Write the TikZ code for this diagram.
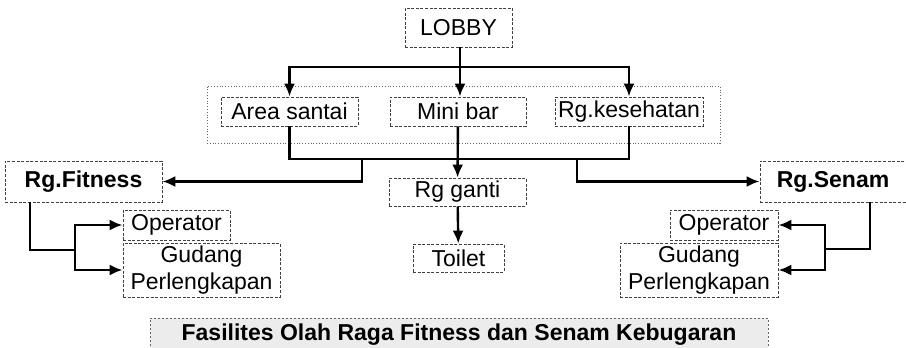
\documentclass[tikz,border=0pt]{standalone}
\usepackage{fontspec}
\setmainfont{Liberation Sans}
\usetikzlibrary{arrows.meta}
\begin{document}
\begin{tikzpicture}[x=0.5pt, y=-0.5pt,
        box/.style={draw=black!75, dash pattern=on 1.5pt off 0.8pt, line width=0.4pt, shape=rectangle, inner sep=0pt, fill=white, align=center, font=\fontsize{11.5}{13.5}\selectfont},
        mainbox/.style={box, font=\fontsize{11.5}{13.5}\selectfont\bfseries},
        link/.style={line width=1.2pt},
        arr/.style={link, -{Latex[length=6.5pt, width=5.5pt]}}]
    \definecolor{Capcolor}{RGB}{236, 236, 236}
    \def\rowheight{14.5pt}
    \def\subheight{15pt}
    \def\gudheight{27pt}
    \useasboundingbox (0,0) rectangle (906,348);
    % zone around the first row
    \node[draw=black!60, densely dotted, line width=0.4pt, minimum width=256.5pt, minimum height=28.5pt] (band) at (463.5,114.5) {};
    \node[box, minimum width=53.5pt, minimum height=19.5pt] (lobby) at (458.5,27.5) {LOBBY};
    \node[box, minimum width=68.5pt, minimum height=\rowheight] (area) at (289.5,111.5) {Area santai};
    \node[box, minimum width=68pt, minimum height=\rowheight] (mini) at (458,111.5) {Mini bar};
    \node[box, minimum width=74pt, minimum height=\rowheight] (kes) at (629,111.5) {Rg.kesehatan};
    \node[box, minimum width=68.5pt, minimum height=14pt] (ganti) at (457.5,192) {Rg ganti};
    \node[box, minimum width=45.5pt, minimum height=14pt] (toilet) at (458.5,258) {Toilet};
    \node[mainbox, minimum width=78.5pt, minimum height=20.5pt] (fitness) at (83.5,181.5) {Rg.Fitness};
    \node[mainbox, minimum width=73pt, minimum height=20.5pt] (senam) at (833,181.5) {Rg.Senam};
    \node[box, minimum width=53.5pt, minimum height=\subheight] (opl) at (176.5,225) {Operator};
    \node[box, minimum width=78.5pt, minimum height=\gudheight] (gdl) at (201.5,270) {Gudang\\Perlengkapan};
    \node[box, minimum width=54pt, minimum height=\subheight] (opr) at (724,225) {Operator};
    \node[box, minimum width=79pt, minimum height=\gudheight] (gdr) at (699,270) {Gudang\\Perlengkapan};
    \node[mainbox, fill=Capcolor, draw=black!60, dash pattern=on 1pt off 1pt, minimum width=309pt, minimum height=17pt] (caption) at (459,335) {Fasilites Olah Raga Fitness dan Senam Kebugaran};
    % junctions
    \coordinate (lj) at (460,67);
    \coordinate (fitj) at (362,159);
    \coordinate (senj) at (577,159);
    \coordinate (fitd) at (30,250);
    \coordinate (fitb) at (75,250);
    \coordinate (send) at (870,249);
    \coordinate (senb) at (825,249);
    % lobby to first row
    \draw[link] (lobby.south -| lj) -- (lj);
    \draw[arr] (lj) -| (area.north);
    \draw[arr] (lj) -- (mini.north -| lj);
    \draw[arr] (lj) -| (kes.north);
    % first row to the rest
    \draw[link] (area.south) |- (fitj) -- (senj) -| (kes.south);
    \draw[arr] (fitj) |- (fitness.east);
    \draw[arr] (senj) |- (senam.west);
    \draw[arr] (mini) -- (ganti);
    \draw[arr] (ganti) -- (toilet);
    % fitness side
    \draw[link] (fitd |- fitness.south) -- (fitd) -- (fitb);
    \draw[arr] (fitb) |- (opl.west);
    \draw[arr] (fitb) |- (gdl.west);
    % senam side
    \draw[link] (send |- senam.south) -- (send) -- (senb);
    \draw[arr] (senb) |- (opr.east);
    \draw[arr] (senb) |- (gdr.east);
\end{tikzpicture}
\end{document}
